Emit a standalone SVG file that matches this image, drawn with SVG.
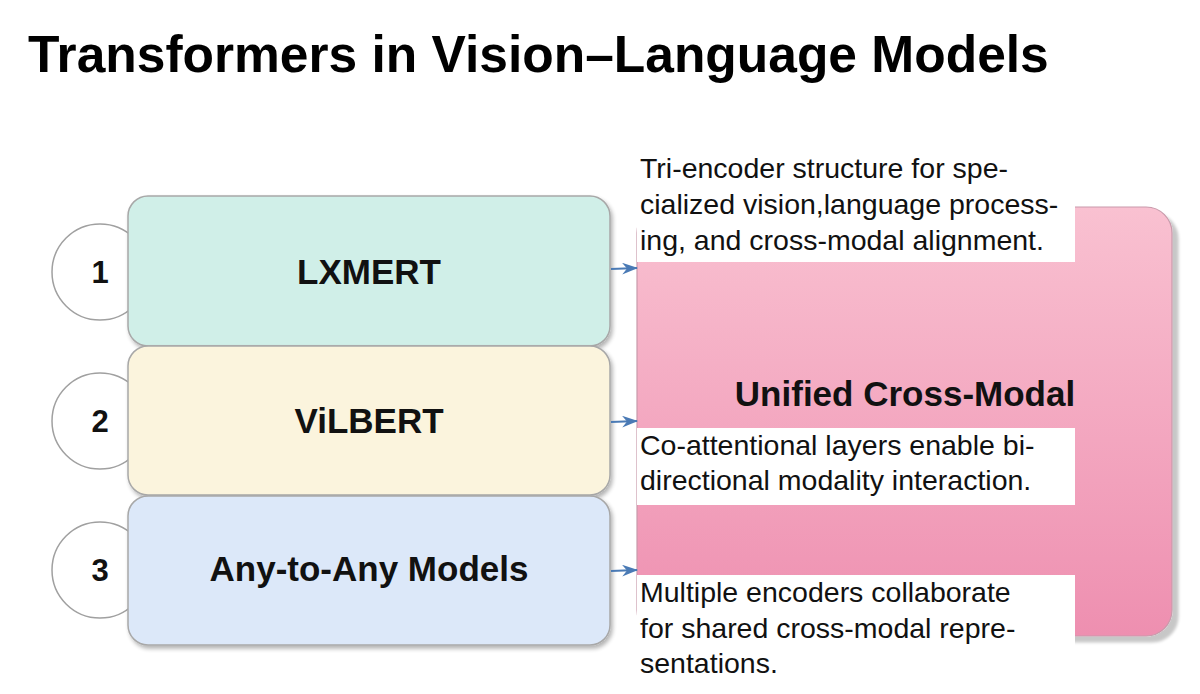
<svg xmlns="http://www.w3.org/2000/svg" width="1200" height="694" viewBox="0 0 1200 694">
<defs>
<linearGradient id="pinkg" x1="0" y1="0" x2="0" y2="1">
<stop offset="0" stop-color="#f9c1d1"/>
<stop offset="1" stop-color="#ee8fb0"/>
</linearGradient>
<filter id="sh" x="-10%" y="-10%" width="130%" height="130%">
<feGaussianBlur in="SourceAlpha" stdDeviation="2"/>
<feOffset dx="2" dy="3" result="b"/>
<feComponentTransfer><feFuncA type="linear" slope="0.3"/></feComponentTransfer>
<feMerge><feMergeNode/><feMergeNode in="SourceGraphic"/></feMerge>
</filter>
<filter id="sh2" x="-10%" y="-10%" width="130%" height="130%">
<feGaussianBlur in="SourceAlpha" stdDeviation="1.5"/>
<feOffset dx="6" dy="6" result="b"/>
<feComponentTransfer><feFuncA type="linear" slope="0.22"/></feComponentTransfer>
<feMerge><feMergeNode/><feMergeNode in="SourceGraphic"/></feMerge>
</filter>
<marker id="arr" viewBox="0 0 16 12" refX="15" refY="6" markerWidth="16" markerHeight="12" markerUnits="userSpaceOnUse" orient="auto">
<path d="M0,0 L16,6 L0,12 L5,6 Z" fill="#4a7ab5"/>
</marker>
</defs>
<style>
.title{font-family:"Liberation Sans",Arial,sans-serif;font-weight:bold;font-size:51.5px;fill:#000}
.circ{fill:#fff;stroke:#a0a0a0;stroke-width:1.5}
.num{font-family:"Liberation Sans",Arial,sans-serif;font-weight:bold;font-size:31px;fill:#111;text-anchor:middle}
.box{stroke:#a8a8a8;stroke-width:1.5}
.lbl{font-family:"Liberation Sans",Arial,sans-serif;font-weight:bold;font-size:35px;fill:#111;text-anchor:middle}
.desc{font-family:"Liberation Sans",Arial,sans-serif;font-size:28.5px;fill:#111}
.conn{stroke:#4a7ab5;stroke-width:2;fill:none}
</style>
<rect width="1200" height="694" fill="#fff"/>
<text class="title" x="28" y="72">Transformers in Vision–Language Models</text>

<g id="unified">
<rect x="637" y="207" width="535" height="429" rx="26" fill="url(#pinkg)" stroke="#c99aab" stroke-width="1.2" filter="url(#sh2)"/>
<text class="lbl" x="905" y="406">Unified Cross-Modal</text>
</g>

<g id="n1">
<circle class="circ" cx="100" cy="272" r="48"/>
<text class="num" x="100" y="283">1</text>
<rect class="box" x="128" y="196" width="482" height="150" rx="20" fill="#d0efe8" filter="url(#sh)"/>
<text class="lbl" x="369" y="284">LXMERT</text>
</g>
<g id="n2">
<circle class="circ" cx="100" cy="421" r="48"/>
<text class="num" x="100" y="432">2</text>
<rect class="box" x="128" y="346" width="482" height="149" rx="20" fill="#fbf4dd" filter="url(#sh)"/>
<text class="lbl" x="369" y="433">ViLBERT</text>
</g>
<g id="n3">
<circle class="circ" cx="100" cy="570" r="48"/>
<text class="num" x="100" y="581">3</text>
<rect class="box" x="128" y="496" width="482" height="149" rx="20" fill="#dce8f9" filter="url(#sh)"/>
<text class="lbl" x="369" y="581">Any-to-Any Models</text>
</g>

<g id="connectors">
<line class="conn" x1="611" y1="269" x2="637" y2="268" marker-end="url(#arr)"/>
<line class="conn" x1="611" y1="422" x2="637" y2="421" marker-end="url(#arr)"/>
<line class="conn" x1="611" y1="571" x2="637" y2="570" marker-end="url(#arr)"/>
</g>

<g id="d1">
<rect x="637" y="150" width="438" height="112" fill="#fff"/>
<text class="desc" x="640" y="178">Tri-encoder structure for spe-</text>
<text class="desc" x="640" y="214">cialized vision,language process-</text>
<text class="desc" x="640" y="250">ing, and cross-modal alignment.</text>
</g>
<g id="d2">
<rect x="637" y="428" width="438" height="77" fill="#fff"/>
<text class="desc" x="640" y="455">Co-attentional layers enable bi-</text>
<text class="desc" x="640" y="490">directional modality interaction.</text>
</g>
<g id="d3">
<rect x="637" y="575" width="438" height="119" fill="#fff"/>
<text class="desc" x="640" y="602">Multiple encoders collaborate</text>
<text class="desc" x="640" y="638">for shared cross-modal repre-</text>
<text class="desc" x="640" y="673">sentations.</text>
</g>
</svg>
